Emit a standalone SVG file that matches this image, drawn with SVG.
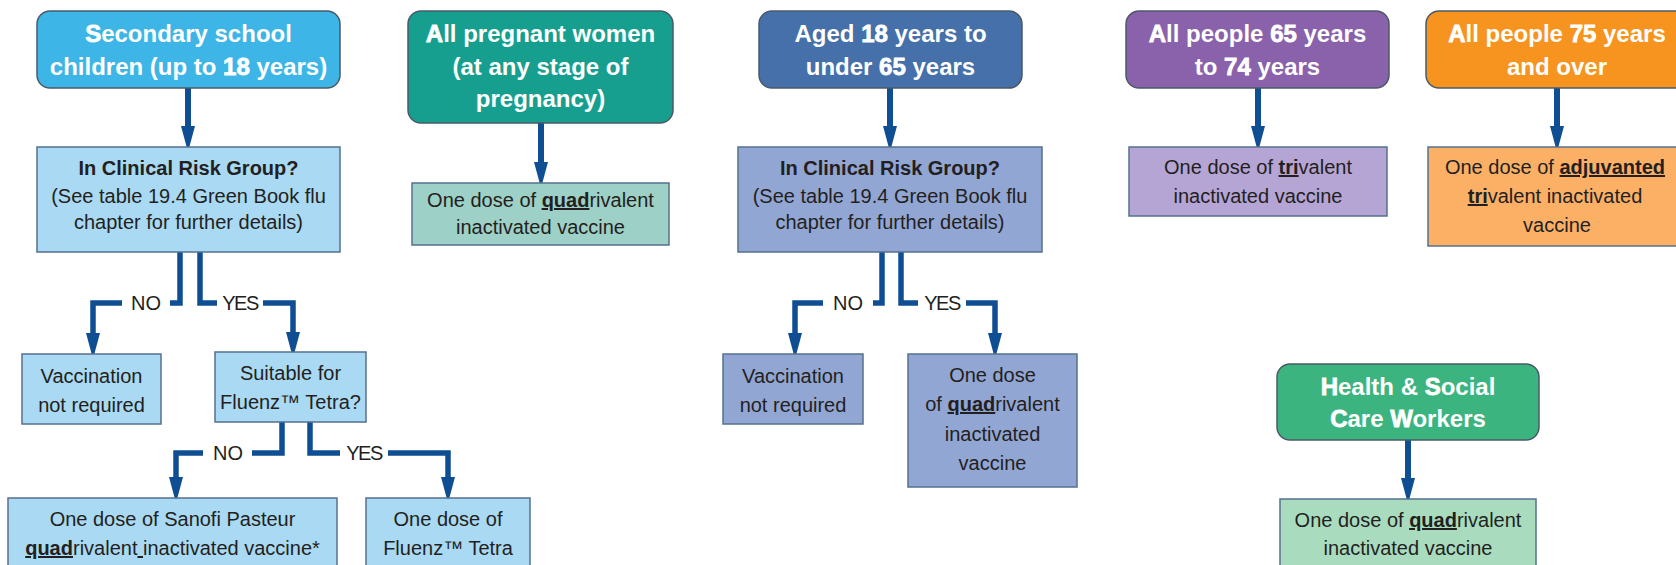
<svg xmlns="http://www.w3.org/2000/svg" width="1676" height="565" viewBox="0 0 1676 565">
  <defs>
    <marker id="ah" markerUnits="userSpaceOnUse" viewBox="0 0 26 14" markerWidth="26" markerHeight="14" refX="12" refY="7" orient="auto">
      <path d="M0,0 L26,7 L0,14 Z" fill="#0f4e93" stroke="none"/>
    </marker>
    <style>
      .hdr { stroke: #4a5a6a; stroke-width: 1.5; }
      .box { stroke: #55718e; stroke-width: 1.5; }
      .ht { font-family: "Liberation Sans", Arial, sans-serif; font-size: 24px; font-weight: bold; fill: #ffffff; text-anchor: middle; }
      .bt { font-family: "Liberation Sans", Arial, sans-serif; font-size: 20px; fill: #231f20; text-anchor: middle; }
      .b { font-weight: bold; }
      .u { font-weight: bold; text-decoration: underline; }
      .us { text-decoration: underline; }
      .k { stroke: #ffffff; stroke-width: 0.8; }
      .lbl { font-family: "Liberation Sans", Arial, sans-serif; font-size: 20px; fill: #231f20; text-anchor: middle; }
      .arr { fill: none; stroke: #0f4e93; stroke-width: 6; stroke-linejoin: miter; marker-end: url(#ah); }
      .br { fill: none; stroke: #0f4e93; stroke-width: 5.5; stroke-linejoin: miter; }
      .bra { marker-end: url(#ah); }
    </style>
  </defs>
  <rect x="0" y="0" width="1676" height="565" fill="#ffffff"/>

  <!-- connectors -->
  <g id="connectors">
    <path class="arr" d="M188,88 V138"/>
    <path class="arr" d="M541,123 V174"/>
    <path class="arr" d="M890,88 V138"/>
    <path class="arr" d="M1258,88 V138"/>
    <path class="arr" d="M1557,88 V138"/>
    <path class="arr" d="M1408,440 V490"/>

    <path class="br" d="M180,252 V303 H170"/>
    <path class="br bra" d="M122,303 H93 V345"/>
    <path class="br" d="M200,252 V303 H217"/>
    <path class="br bra" d="M263,303 H293 V344"/>

    <path class="br" d="M282,422 V453 H252"/>
    <path class="br bra" d="M203,453 H176 V489"/>
    <path class="br" d="M310,422 V453 H340"/>
    <path class="br bra" d="M388,453 H448 V489"/>

    <path class="br" d="M882,252 V303 H873"/>
    <path class="br bra" d="M823,303 H795 V345"/>
    <path class="br" d="M901,252 V303 H918"/>
    <path class="br bra" d="M966,303 H995 V345"/>

    <text class="lbl" x="146" y="310">NO</text>
    <text class="lbl" x="240" y="310" letter-spacing="-1.5">YES</text>
    <text class="lbl" x="228" y="460">NO</text>
    <text class="lbl" x="364" y="460" letter-spacing="-1.5">YES</text>
    <text class="lbl" x="848" y="310">NO</text>
    <text class="lbl" x="942" y="310" letter-spacing="-1.5">YES</text>
  </g>

  <!-- Secondary school column -->
  <g id="h_school">
    <rect class="hdr" x="37" y="11" width="303" height="77" rx="13" fill="#3db5e6"/>
    <text class="ht" x="188.5" y="42"><tspan class="k">S</tspan>econdary school</text>
    <text class="ht" x="188.5" y="75">children (up to <tspan class="k">18</tspan> years)</text>
  </g>
  <g id="school_risk">
    <rect class="box" x="37" y="147" width="303" height="105" fill="#a9d9f3"/>
    <text class="bt b" x="188.5" y="175" font-size="21">In Clinical Risk Group?</text>
    <text class="bt" x="188.5" y="203">(See table 19.4 Green Book flu</text>
    <text class="bt" x="188.5" y="229">chapter for further details)</text>
  </g>
  <g id="school_novax">
    <rect class="box" x="22" y="354" width="139" height="70" fill="#a9d9f3"/>
    <text class="bt" x="91.5" y="383">Vaccination</text>
    <text class="bt" x="91.5" y="412">not required</text>
  </g>
  <g id="school_fluenz_q">
    <rect class="box" x="215" y="352" width="151" height="70" fill="#a9d9f3"/>
    <text class="bt" x="290.5" y="380">Suitable for</text>
    <text class="bt" x="290.5" y="409">Fluenz™ Tetra?</text>
  </g>
  <g id="school_sanofi">
    <rect class="box" x="8" y="498" width="329" height="90" fill="#a9d9f3"/>
    <text class="bt" x="172.5" y="526">One dose of Sanofi Pasteur</text>
    <text class="bt" x="172.5" y="555"><tspan class="u">quad</tspan>rivalent<tspan class="us"> </tspan>inactivated vaccine*</text>
  </g>
  <g id="school_fluenz">
    <rect class="box" x="366" y="498" width="164" height="90" fill="#a9d9f3"/>
    <text class="bt" x="448" y="526">One dose of</text>
    <text class="bt" x="448" y="555">Fluenz™ Tetra</text>
  </g>

  <!-- Pregnant women column -->
  <g id="h_preg">
    <rect class="hdr" x="408" y="11" width="265" height="112" rx="13" fill="#169f8f"/>
    <text class="ht" x="540.5" y="42"><tspan class="k">A</tspan>ll pregnant women</text>
    <text class="ht" x="540.5" y="75">(at any stage of</text>
    <text class="ht" x="540.5" y="107">pregnancy)</text>
  </g>
  <g id="preg_vax">
    <rect class="box" x="412" y="183" width="257" height="62" fill="#9dd0c6"/>
    <text class="bt" x="540.5" y="207">One dose of <tspan class="u">quad</tspan>rivalent</text>
    <text class="bt" x="540.5" y="234">inactivated vaccine</text>
  </g>

  <!-- Aged 18 to 65 column -->
  <g id="h_aged">
    <rect class="hdr" x="759" y="11" width="263" height="77" rx="13" fill="#4570a9"/>
    <text class="ht" x="890.5" y="42">Aged <tspan class="k">18</tspan> years to</text>
    <text class="ht" x="890.5" y="75">under <tspan class="k">65</tspan> years</text>
  </g>
  <g id="aged_risk">
    <rect class="box" x="738" y="147" width="304" height="105" fill="#92a6d4"/>
    <text class="bt b" x="890" y="175" font-size="21">In Clinical Risk Group?</text>
    <text class="bt" x="890" y="203">(See table 19.4 Green Book flu</text>
    <text class="bt" x="890" y="229">chapter for further details)</text>
  </g>
  <g id="aged_novax">
    <rect class="box" x="723" y="354" width="140" height="70" fill="#92a6d4"/>
    <text class="bt" x="793" y="383">Vaccination</text>
    <text class="bt" x="793" y="412">not required</text>
  </g>
  <g id="aged_vax">
    <rect class="box" x="908" y="354" width="169" height="133" fill="#92a6d4"/>
    <text class="bt" x="992.5" y="382">One dose</text>
    <text class="bt" x="992.5" y="411">of <tspan class="u">quad</tspan>rivalent</text>
    <text class="bt" x="992.5" y="441">inactivated</text>
    <text class="bt" x="992.5" y="470">vaccine</text>
  </g>

  <!-- 65 to 74 column -->
  <g id="h_65">
    <rect class="hdr" x="1126" y="11" width="263" height="77" rx="13" fill="#8a61ab"/>
    <text class="ht" x="1257.5" y="42"><tspan class="k">A</tspan>ll people <tspan class="k">65</tspan> years</text>
    <text class="ht" x="1257.5" y="75">to <tspan class="k">74</tspan> years</text>
  </g>
  <g id="v_65">
    <rect class="box" x="1129" y="147" width="258" height="69" fill="#b5a5d5"/>
    <text class="bt" x="1258" y="174">One dose of <tspan class="u">tri</tspan>valent</text>
    <text class="bt" x="1258" y="203">inactivated vaccine</text>
  </g>

  <!-- 75 and over column -->
  <g id="h_75">
    <rect class="hdr" x="1426" y="11" width="280" height="77" rx="13" fill="#f6941f"/>
    <text class="ht" x="1557" y="42"><tspan class="k">A</tspan>ll people <tspan class="k">75</tspan> years</text>
    <text class="ht" x="1557" y="75">and over</text>
  </g>
  <g id="v_75">
    <rect class="box" x="1428" y="147" width="280" height="99" fill="#fbb066"/>
    <text class="bt" x="1555" y="174">One dose of <tspan class="u">adjuvanted</tspan></text>
    <text class="bt" x="1555" y="203"><tspan class="u">tri</tspan>valent inactivated</text>
    <text class="bt" x="1557" y="232">vaccine</text>
  </g>

  <!-- Health & Social Care Workers -->
  <g id="h_hcw">
    <rect class="hdr" x="1277" y="364" width="262" height="76" rx="13" fill="#3cb47f"/>
    <text class="ht" x="1408" y="395"><tspan class="k">H</tspan>ealth &amp; <tspan class="k">S</tspan>ocial</text>
    <text class="ht" x="1408" y="427"><tspan class="k">C</tspan>are <tspan class="k">W</tspan>orkers</text>
  </g>
  <g id="hcw_vax">
    <rect class="box" x="1280" y="499" width="256" height="90" fill="#a9dcbf"/>
    <text class="bt" x="1408" y="527">One dose of <tspan class="u">quad</tspan>rivalent</text>
    <text class="bt" x="1408" y="555">inactivated vaccine</text>
  </g>
</svg>
